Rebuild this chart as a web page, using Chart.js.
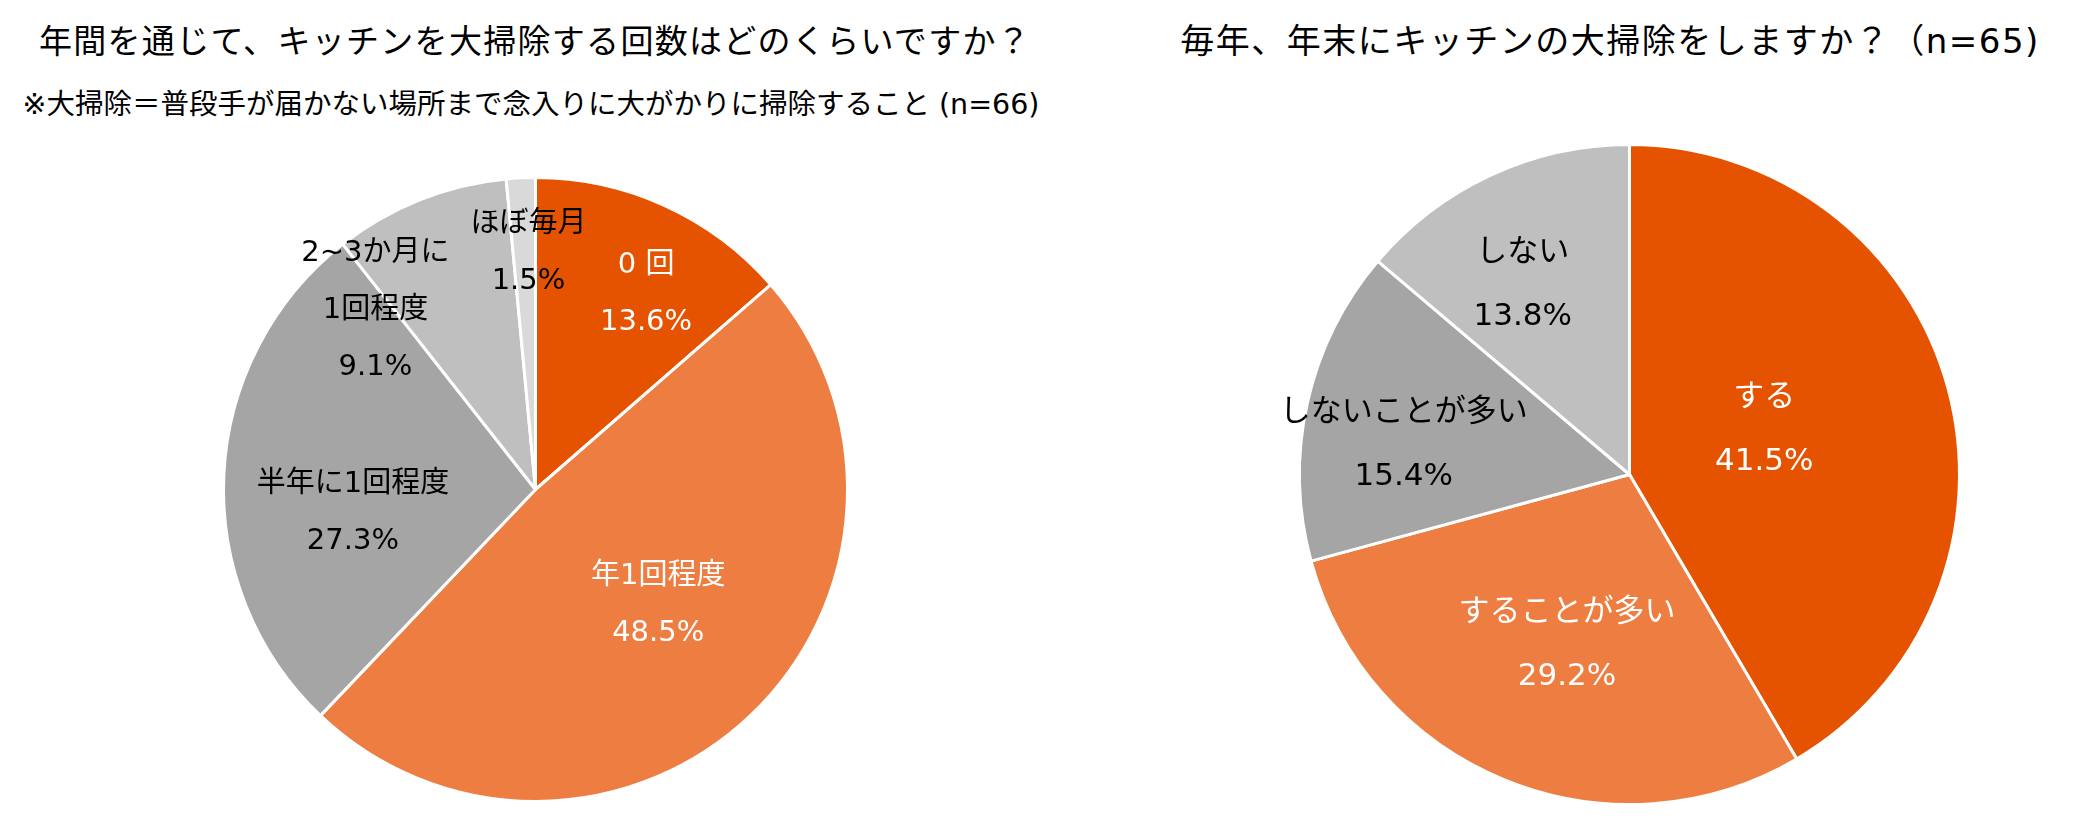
<!DOCTYPE html>
<html lang="ja">
<head>
<meta charset="utf-8">
<script src="https://cdn.jsdelivr.net/npm/chart.js@4.4.1/dist/chart.umd.min.js"></script>
<style>
html, body { margin: 0; padding: 0; background: #fff; }
body { width: 2082px; height: 818px; position: relative; overflow: hidden;
       font-family: "DejaVu Sans", "Noto Sans CJK JP", sans-serif; color: #000; }
.title { position: absolute; white-space: nowrap; transform: translateX(-50%); line-height: 1; }
.chart-box { position: absolute; }
</style>
</head>
<body>
<div class="title" style="left:535px; top:25px; font-size:33px; letter-spacing:1.3px;">年間を通じて、キッチンを大掃除する回数はどのくらいですか？</div>
<div class="title" style="left:531px; top:91px; font-size:28.5px;">※大掃除＝普段手が届かない場所まで念入りに大がかりに掃除すること (n=66)</div>
<div class="title" style="left:1610px; top:24px; font-size:34px; letter-spacing:1.5px;">毎年、年末にキッチンの大掃除をしますか？（n=65)</div>

<div class="chart-box" id="box-left"><canvas id="chart-left"></canvas></div>
<div class="chart-box" id="box-right"><canvas id="chart-right"></canvas></div>

<script>
// 年間の大掃除回数 (n=66)
const freqLabels = ['0 回', '年1回程度', '半年に1回程度', '2~3か月に1回程度', 'ほぼ毎月'];
const freqValues = [13.6, 48.5, 27.3, 9.1, 1.5];

// 年末の大掃除 (n=65)
const yearEndLabels = ['する', 'することが多い', 'しないことが多い', 'しない'];
const yearEndValues = [41.5, 29.2, 15.4, 13.8];

// ラベルの表示（改行済み）
const freqLabelLines = [['0 回'], ['年1回程度'], ['半年に1回程度'], ['2~3か月に', '1回程度'], ['ほぼ毎月']];
const yearEndLabelLines = [['する'], ['することが多い'], ['しないことが多い'], ['しない']];

const ORANGE_DARK = '#E65300';
const ORANGE = '#ED7D41';
const GRAY = '#A5A5A5';
const GRAY_LIGHT = '#BFBFBF';
const GRAY_LIGHTER = '#D9D9D9';

// 円の中にラベルを描く
const sliceLabelPlugin = {
    id: 'sliceLabels',
    afterDatasetsDraw(chart, args, opts) {
        const ctx = chart.ctx;
        const meta = chart.getDatasetMeta(0);
        const values = chart.data.datasets[0].data;
        ctx.save();
        ctx.font = opts.fontSize + 'px "DejaVu Sans", "Noto Sans CJK JP", sans-serif';
        ctx.textAlign = 'center';
        ctx.textBaseline = 'middle';
        meta.data.forEach((arc, i) => {
            const p = arc.getProps(['x', 'y', 'startAngle', 'endAngle', 'outerRadius'], true);
            const mid = (p.startAngle + p.endAngle) / 2 + opts.angleShift[i] * Math.PI / 180;
            const r = p.outerRadius * opts.radius[i];
            const cx = p.x + Math.cos(mid) * r;
            const cy = p.y + Math.sin(mid) * r;
            const lines = opts.lines[i].concat([values[i].toFixed(1) + '%']);
            const top = cy - (lines.length - 1) * opts.lineHeight / 2;
            ctx.fillStyle = opts.colors[i];
            lines.forEach((t, k) => ctx.fillText(t, cx, top + k * opts.lineHeight));
        });
        ctx.restore();
    }
};

function makePie(canvasId, boxId, centerX, centerY, radius, labels, values, colors, labelOpts) {
    const pad = 60;
    const size = Math.round(2 * (radius + pad) + 3);
    const box = document.getElementById(boxId);
    box.style.left = (centerX - size / 2) + 'px';
    box.style.top = (centerY - size / 2) + 'px';
    const canvas = document.getElementById(canvasId);
    canvas.width = size;
    canvas.height = size;
    return new Chart(canvas.getContext('2d'), {
        type: 'pie',
        data: {
            labels,
            datasets: [{
                data: values,
                backgroundColor: colors,
                borderColor: '#FFFFFF',
                borderWidth: 3
            }]
        },
        options: {
            responsive: false,
            animation: false,
            layout: { padding: pad },
            plugins: {
                legend: { display: false },
                tooltip: { enabled: false },
                sliceLabels: labelOpts
            }
        },
        plugins: [sliceLabelPlugin]
    });
}

makePie('chart-left', 'box-left', 535, 489, 312, freqLabels, freqValues,
    [ORANGE_DARK, ORANGE, GRAY, GRAY_LIGHT, GRAY_LIGHTER],
    {
        lines: freqLabelLines,
        radius: [0.72, 0.54, 0.59, 0.77, 0.76],
        angleShift: [5, -3, -10, -20, 1],
        colors: ['#FFFFFF', '#FFFFFF', '#000000', '#000000', '#000000'],
        fontSize: 29,
        lineHeight: 57
    });

makePie('chart-right', 'box-right', 1629, 474, 330, yearEndLabels, yearEndValues,
    [ORANGE_DARK, ORANGE, GRAY, GRAY_LIGHT],
    {
        lines: yearEndLabelLines,
        radius: [0.43, 0.55, 0.69, 0.66],
        angleShift: [-3, -2, -5, -4.5],
        colors: ['#FFFFFF', '#FFFFFF', '#000000', '#000000'],
        fontSize: 31,
        lineHeight: 64
    });
</script>
</body>
</html>
